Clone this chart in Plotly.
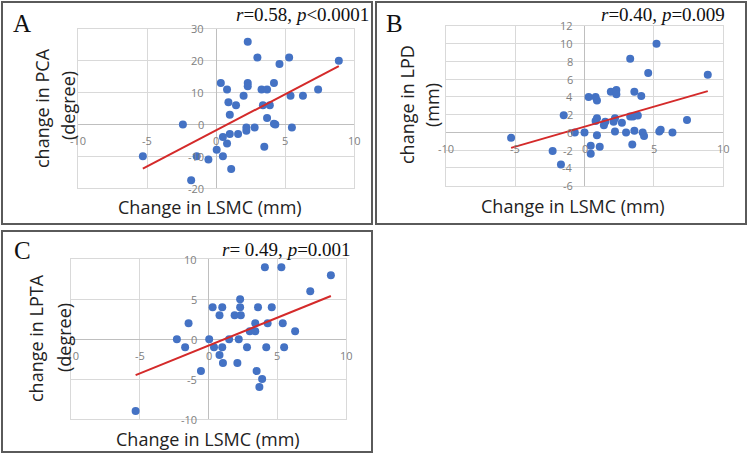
import plotly.graph_objects as go

W, H = 750, 453

# ---------------- data ----------------
# Panel A: change in LSMC (mm) vs change in PCA (degree)
a_x = [2.3, 3.0, 4.6, 5.3, 8.9, 0.35, 2.3, 2.3, 4.2, 0.8, 3.3, 3.7, 7.4, 0.9, 1.45,
       2.0, 1.0, 3.4, 3.9, 3.7, 4.3, 4.2, 5.4, 6.3, 5.5, 2.8, 2.2, 2.2, 1.6, 1.0,
       0.5, 0.8, 3.5, 0.05, 0.5, -0.55, 1.1, -1.4, -5.3, -2.4, -1.8]
a_y = [26, 21, 19, 21, 20, 13, 13, 12, 13, 11, 11, 11, 11, 7, 6,
       9, 3, 6, 6, 2, 0, 0.2, 9, 9, -1, -1, -1, -2, -3, -3,
       -4, -6, -7, -8, -10, -11, -14, -10, -10, 0, -17.6]
a_fit_x = [-5.3, 8.9]
a_fit_y = [-13.9, 18.3]

# Panel B: change in LSMC (mm) vs change in LPD (mm)
b_x = [5.2, 3.3, 4.6, 8.9, 1.9, 2.3, 2.3, 3.6, 4.1, 0.3, 0.8, 0.9, 7.4, 0.8, 0.9,
       1.4, 1.5, 2.1, 2.2, 2.7, 3.3, 3.5, 3.85, 3.6, 2.2, 3.0, 4.2, 4.3, 5.4, 5.5,
       6.35, 0.9, 0.0, -0.7, 0.45, 0.45, 1.1, 3.45, -1.5, -5.3, -2.3, -1.7]
b_y = [10.0, 8.3, 6.7, 6.5, 4.6, 4.8, 4.3, 4.6, 4.1, 4.0, 4.0, 3.6, 1.4, 1.3, 1.6,
       0.8, 1.2, 1.2, 1.6, 1.1, 1.8, 1.8, 1.9, 0.2, 0.1, 0.0, 0.0, -0.4, 0.1, 0.3,
       0.0, -0.3, 0.0, 0.0, -1.5, -2.4, -1.6, -1.35, 1.95, -0.6, -2.1, -3.6]
b_fit_x = [-5.3, 8.9]
b_fit_y = [-1.74, 4.66]

# Panel C: change in LSMC (mm) vs change in LPTA (degree)
c_x = [4.1, 5.3, 8.9, 7.4, 2.3, 0.3, 1.0, 2.3, 3.6, 4.6, 0.8, 1.9, 2.35, 3.4, 4.3,
       5.4, 3.0, 3.4, 6.3, 0.05, 1.5, 2.2, 0.4, 1.0, 2.8, 4.2, 5.5, 0.8, 1.05, 2.1,
       3.5, 3.9, 3.7, -0.55, -1.7, -1.45, -5.3, -2.3]
c_y = [9, 9, 8, 6, 5, 4, 4, 4, 4, 4, 3, 3, 3, 2, 2,
       2, 1, 1, 1, 0, 0, 0, -1, -1, -1, -1, -1, -2, -3, -3,
       -4, -5, -6, -4, -1, 2, -9, 0]
c_fit_x = [-5.3, 8.9]
c_fit_y = [-4.5, 5.4]

# tick labels
x_ticks = [-10, -5, 0, 5, 10]
a_y_ticks = [-20, -10, 0, 10, 20, 30]
b_y_ticks = [-6, -4, -2, 0, 2, 4, 6, 8, 10, 12]
c_y_ticks = [-10, -5, 0, 5, 10]

panel_letters = ["A", "B", "C"]
stat_texts = ["<i>r</i>=0.58, <i>p</i>&lt;0.0001",
              "<i>r</i>=0.40, <i>p</i>=0.009",
              "<i>r</i>= 0.49, <i>p</i>=0.001"]
x_title = "Change in LSMC (mm)"
y_titles = [("change in PCA", "(degree)"),
            ("change in LPD", "(mm)"),
            ("change in LPTA", "(degree)")]

# ---------------- style ----------------
DOT = "#4472C4"
FIT = "#D42A2A"
GRID = "#D9D9D9"
AXIS = "#BFBFBF"
TICK = "#808080"
BORDER = "#5A5A5A"
SANS = "Open Sans"
SERIF = "Liberation Serif"

def px(x):
    return x / W

def py(y):
    return 1 - y / H

fig = go.Figure()

panels = [
    dict(x=a_x, y=a_y, fx=a_fit_x, fy=a_fit_y, yr=[-20, 30], ydt=10, yt=a_y_ticks,
         dom_x=[78, 354], dom_y=[29, 188], box=[2, 2, 372, 224],
         letter=(22, 23), stat=(371, 15), xt=(210, 207), yt1=(42, 108), yt2=(68, 106)),
    dict(x=b_x, y=b_y, fx=b_fit_x, fy=b_fit_y, yr=[-6, 12], ydt=2, yt=b_y_ticks,
         dom_x=[446, 723], dom_y=[26, 185.7], box=[376, 2, 746, 224],
         letter=(395, 23), stat=(727, 15), xt=(573, 206), yt1=(407, 105), yt2=(432, 105)),
    dict(x=c_x, y=c_y, fx=c_fit_x, fy=c_fit_y, yr=[-10, 10], ydt=5, yt=c_y_ticks,
         dom_x=[71, 346], dom_y=[259.3, 419], box=[2, 231, 372, 452],
         letter=(22, 250), stat=(353, 249), xt=(208, 438.5), yt1=(36, 338), yt2=(64, 338)),
]

annotations = []
shapes = []
for i, p in enumerate(panels):
    n = "" if i == 0 else str(i + 1)
    xa, ya = "x" + n, "y" + n
    fig.add_trace(go.Scatter(x=p["x"], y=p["y"], mode="markers", xaxis=xa, yaxis=ya,
                             marker=dict(color=DOT, size=8, line=dict(width=0)),
                             showlegend=False, hoverinfo="x+y"))
    fig.add_trace(go.Scatter(x=p["fx"], y=p["fy"], mode="lines", xaxis=xa, yaxis=ya,
                             line=dict(color=FIT, width=2), showlegend=False))
    axis_common = dict(showgrid=True, gridcolor=GRID, gridwidth=1, zeroline=True,
                       zerolinecolor=AXIS, zerolinewidth=1, showline=True, mirror=True,
                       linecolor=GRID, linewidth=1, showticklabels=False, ticks="",
                       fixedrange=True)
    fig.update_layout(**{
        "xaxis" + n: dict(domain=[px(p["dom_x"][0]), px(p["dom_x"][1])], range=[-10, 10],
                          dtick=5, tick0=0, anchor=ya, **axis_common),
        "yaxis" + n: dict(domain=[py(p["dom_y"][1]), py(p["dom_y"][0])], range=p["yr"],
                          dtick=p["ydt"], tick0=0, anchor=xa, **axis_common),
    })
    # tick labels next to the zero-crossing axes
    for t in x_ticks:
        annotations.append(dict(x=t, y=0, xref=xa, yref=ya, text=str(t), showarrow=False,
                                xanchor="center", yanchor="middle", yshift=-16,
                                font=dict(family=SANS, size=11, color=TICK)))
    for t in p["yt"]:
        annotations.append(dict(x=0, y=t, xref=xa, yref=ya, text=str(t), showarrow=False,
                                xanchor="right", yanchor="middle", xshift=-10,
                                font=dict(family=SANS, size=11, color=TICK)))
    # panel box
    bx = p["box"]
    shapes.append(dict(type="rect", xref="paper", yref="paper",
                       x0=px(bx[0]), x1=px(bx[2]), y0=py(bx[3]), y1=py(bx[1]),
                       line=dict(color=BORDER, width=2)))
    # texts
    annotations.append(dict(x=px(p["letter"][0]), y=py(p["letter"][1]), xref="paper", yref="paper",
                            text=panel_letters[i], showarrow=False, xanchor="center", yanchor="middle",
                            font=dict(family=SERIF, size=25, color="#111111")))
    annotations.append(dict(x=px(p["stat"][0]), y=py(p["stat"][1]), xref="paper", yref="paper",
                            text=stat_texts[i], showarrow=False, xanchor="right", yanchor="middle",
                            font=dict(family=SERIF, size=19, color="#111111")))
    annotations.append(dict(x=px(p["xt"][0]), y=py(p["xt"][1]), xref="paper", yref="paper",
                            text=x_title, showarrow=False, xanchor="center", yanchor="middle",
                            font=dict(family=SANS, size=18, color="#222222")))
    annotations.append(dict(x=px(p["yt1"][0]), y=py(p["yt1"][1]), xref="paper", yref="paper",
                            text=y_titles[i][0], showarrow=False, xanchor="center", yanchor="middle",
                            textangle=-90, font=dict(family=SANS, size=18, color="#222222")))
    annotations.append(dict(x=px(p["yt2"][0]), y=py(p["yt2"][1]), xref="paper", yref="paper",
                            text=y_titles[i][1], showarrow=False, xanchor="center", yanchor="middle",
                            textangle=-90, font=dict(family=SANS, size=18, color="#222222")))

fig.update_layout(width=W, height=H, margin=dict(l=0, r=0, t=0, b=0),
                  paper_bgcolor="white", plot_bgcolor="white",
                  annotations=annotations, shapes=shapes, showlegend=False)

fig.write_html("out.html", config={"displayModeBar": False})
